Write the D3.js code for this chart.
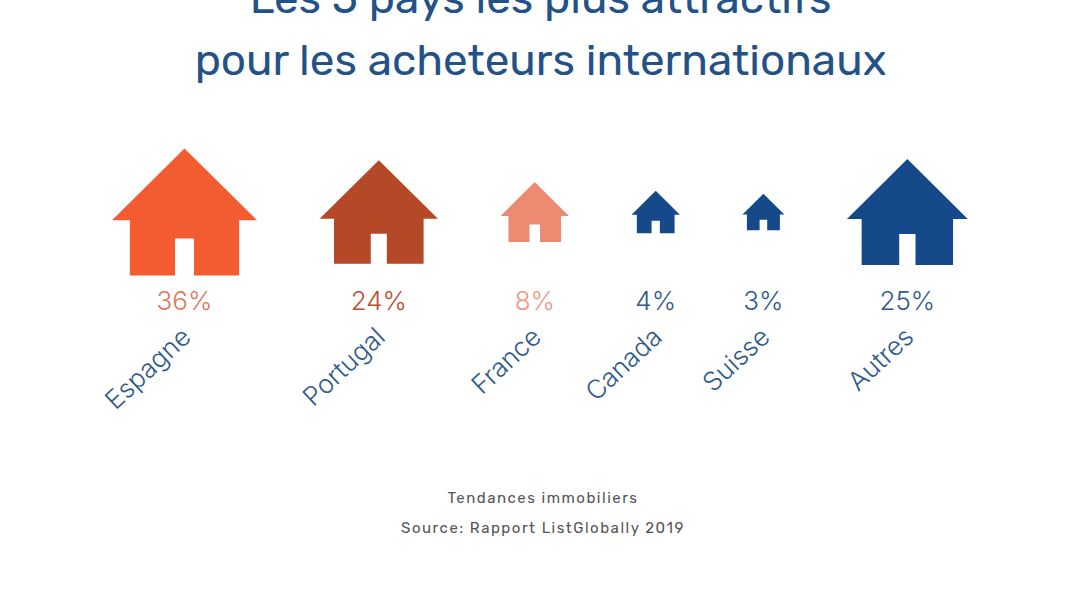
<!DOCTYPE html>
<html>
<head>
<meta charset="utf-8">
<script src="https://cdn.jsdelivr.net/npm/d3@7"></script>
<style>
  html, body { margin: 0; padding: 0; background: #fff; }
  svg { display: block; }
</style>
</head>
<body>
<svg id="chart" width="1068" height="590"></svg>
<script>
const titleLines = ["Les 5 pays les plus attractifs", "pour les acheteurs internationaux"];
const categories = ["Espagne", "Portugal", "France", "Canada", "Suisse", "Autres"];
const values = [36, 24, 8, 4, 3, 25];
const colors = ["#f35c30", "#b54826", "#ec8b72", "#15498a", "#15498a", "#15498a"];
const textColors = ["#e0785a", "#b8502f", "#ec9a84", "#2f5a8a", "#2f5a8a", "#2f5a8a"];
const sourceLines = ["Tendances immobiliers", "Source: Rapport ListGlobally 2019"];

const svg = d3.select("#chart");
const font = "Rubik, Roboto, sans-serif";
const labelFont = "Inter, sans-serif";

// house size goes with the square root of the value
const size = d3.scaleSqrt().domain([0, 36]).range([0, 145]);
const heightRatio = 0.876;
const gap = 62.6;
const startX = 112;
const midY = 212;

// x centers: houses laid out side by side with a constant gap
let cursor = startX;
const centers = values.map(v => {
  const c = cursor + size(v) / 2;
  cursor += size(v) + gap;
  return c;
});

const line = d3.line();

// house outline, small houses keep a slightly wider body and door
function housePath(v, cx) {
  const w = size(v);
  const h = w * heightRatio;
  const top = midY - h / 2, bottom = midY + h / 2;
  const eave = top + 0.565 * h, doorTop = top + 0.709 * h;
  const body = 0.37 * w + 1, door = 0.055 * w + 1.5;
  return line([
    [cx, top], [cx + w / 2, eave], [cx + body, eave], [cx + body, bottom],
    [cx + door, bottom], [cx + door, doorTop], [cx - door, doorTop], [cx - door, bottom],
    [cx - body, bottom], [cx - body, eave], [cx - w / 2, eave]
  ]) + "Z";
}

svg.selectAll("text.title")
  .data(titleLines)
  .join("text")
  .attr("class", "title")
  .attr("x", 540.5)
  .attr("y", (d, i) => 13 + i * 62)
  .attr("text-anchor", "middle")
  .attr("font-family", font)
  .attr("font-size", 44)
  .attr("fill", "#235288")
  .text(d => d);

const items = svg.selectAll("g.item")
  .data(categories)
  .join("g")
  .attr("class", "item");

items.append("path")
  .attr("d", (d, i) => housePath(values[i], centers[i]))
  .attr("fill", (d, i) => colors[i]);

items.append("text")
  .attr("x", (d, i) => centers[i])
  .attr("y", 310)
  .attr("text-anchor", "middle")
  .attr("font-family", labelFont)
  .attr("font-weight", 300)
  .attr("font-size", 26)
  .attr("fill", (d, i) => textColors[i])
  .text((d, i) => values[i] + "%");

items.append("text")
  .attr("transform", (d, i) => `translate(${centers[i] + 8},${339}) rotate(-43)`)
  .attr("text-anchor", "end")
  .attr("font-family", labelFont)
  .attr("font-weight", 300)
  .attr("font-size", 26)
  .attr("fill", "#2f5a8a")
  .text(d => d);

svg.selectAll("text.source")
  .data(sourceLines)
  .join("text")
  .attr("class", "source")
  .attr("x", 543)
  .attr("y", (d, i) => 503 + i * 29.5)
  .attr("text-anchor", "middle")
  .attr("font-family", font)
  .attr("font-size", 15)
  .attr("letter-spacing", 1.5)
  .attr("fill", "#555")
  .text(d => d);
</script>
</body>
</html>
